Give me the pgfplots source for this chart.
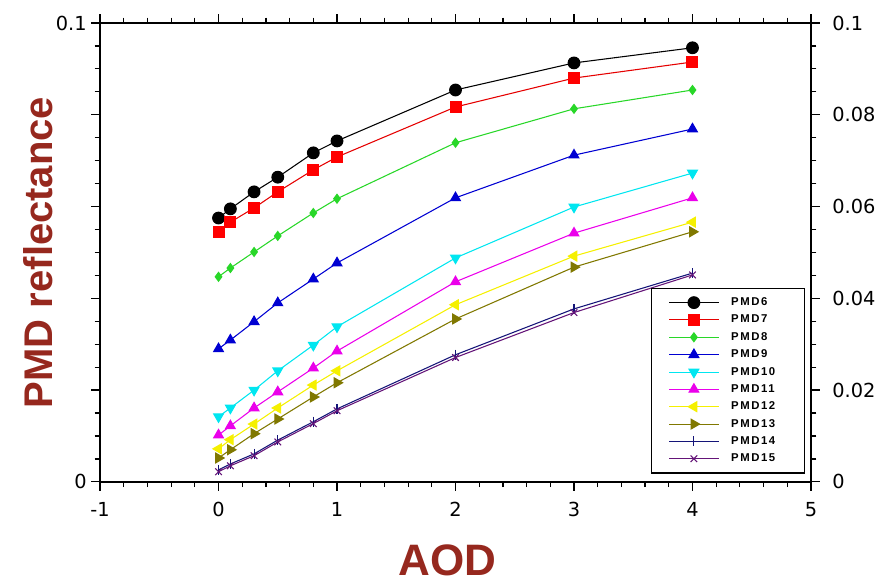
\documentclass[border=0pt]{standalone}
\usepackage{pgfplots}
\pgfplotsset{compat=1.18}
\usepackage{fontspec}
\setmainfont{DejaVu Sans}
\newfontfamily\labfont{Liberation Sans}
\newfontfamily\legfont{Liberation Sans}[LetterSpace=14]
\definecolor{labred}{RGB}{150,40,30}
\definecolor{cgreen}{RGB}{40,215,40}
\definecolor{cblue}{RGB}{0,0,210}
\definecolor{ccyan}{RGB}{0,230,240}
\definecolor{cmag}{RGB}{235,0,235}
\definecolor{cyel}{RGB}{245,240,0}
\definecolor{colive}{RGB}{128,120,0}
\definecolor{cnavy}{RGB}{20,20,120}
\definecolor{cpurp}{RGB}{100,20,120}

\pgfplotsset{
  common/.style={
    scale only axis, width=533pt, height=344pt,
    xmin=-1, xmax=5, ymin=0, ymax=0.1,
    tick align=outside,
    major tick length=6.5pt, minor tick length=4pt,
    axis line style={line width=1pt},
    every tick/.style={black, line width=0.9pt},
    ticklabel style={font=\fontsize{14.5}{16}\selectfont},
    /pgf/number format/assume math mode=true,
    minor y tick num=3,
    ytick={0,0.02,0.04,0.06,0.08,0.1},
  },
}

\begin{document}
\begin{tikzpicture}
\begin{axis}[
  common, name=main,
  xtick={-1,0,1,2,3,4,5}, minor x tick num=4,
  xtick pos=both, ytick pos=left,
  xticklabel style={yshift=-5pt},
  yticklabels={0,,,,,0.1},
  xlabel={AOD},
  ylabel={PMD reflectance},
  xlabel style={font=\labfont\bfseries\fontsize{33}{36}\selectfont, color=labred,
    inner sep=0pt, at={(axis description cs:0.489,-0.17)}, anchor=center},
  ylabel style={font=\labfont\bfseries\fontsize{30}{34}\selectfont, color=labred,
    at={(axis description cs:-0.087,0.5)}, anchor=center},
  every axis plot/.append style={line width=0.8pt},
  legend style={at={(0.992,0.018)}, anchor=south east, draw=black, line width=1pt,
    font=\legfont\bfseries\fontsize{8.5}{10}\selectfont, row sep=1.6pt,
    inner xsep=13pt, inner ysep=5pt,
    nodes={inner xsep=9pt}},
  legend cell align=left,
  legend image code/.code={\draw[mark repeat=2,mark phase=2,line width=0.8pt]
    plot coordinates {(0cm,0cm)(0.65cm,0cm)(1.3cm,0cm)};},
]
\addplot[black, mark=*, mark size=4.4pt, mark options={solid,fill=black}] coordinates {
 (0,0.0575)(0.1,0.0595)(0.3,0.0632)(0.5,0.0664)(0.8,0.0717)(1,0.0743)(2,0.0854)(3,0.0913)(4,0.0946)};
\addplot[red!90!black, mark=square*, mark size=4.1pt, mark options={fill=red,draw=red}] coordinates {
 (0,0.0545)(0.1,0.0566)(0.3,0.0597)(0.5,0.0632)(0.8,0.0680)(1,0.0708)(2,0.0817)(3,0.0880)(4,0.0915)};
\addplot[cgreen, mark=diamond*, mark size=3.3pt, mark options={fill=cgreen}] coordinates {
 (0,0.0447)(0.1,0.0466)(0.3,0.0501)(0.5,0.0536)(0.8,0.0586)(1,0.0617)(2,0.0739)(3,0.0813)(4,0.0854)};
\addplot[cblue, mark=triangle*, mark size=4.2pt, mark options={fill=cblue}] coordinates {
 (0,0.0290)(0.1,0.0309)(0.3,0.0349)(0.5,0.0390)(0.8,0.0442)(1,0.0477)(2,0.0619)(3,0.0712)(4,0.0769)};
\addplot[ccyan, mark=triangle*, mark size=4.2pt, mark options={fill=ccyan,rotate=180}] coordinates {
 (0,0.0142)(0.1,0.0161)(0.3,0.0200)(0.5,0.0242)(0.8,0.0298)(1,0.0338)(2,0.0488)(3,0.0599)(4,0.0673)};
\addplot[cmag, mark=triangle*, mark size=4.2pt, mark options={fill=cmag}] coordinates {
 (0,0.0102)(0.1,0.0122)(0.3,0.0161)(0.5,0.0196)(0.8,0.0248)(1,0.0285)(2,0.0436)(3,0.0542)(4,0.0619)};
\addplot[cyel, mark=triangle*, mark size=4.2pt, mark options={fill=cyel,rotate=90}] coordinates {
 (0,0.0072)(0.1,0.0092)(0.3,0.0126)(0.5,0.0161)(0.8,0.0211)(1,0.0242)(2,0.0386)(3,0.0492)(4,0.0566)};
\addplot[colive, mark=triangle*, mark size=4.2pt, mark options={fill=colive,rotate=-90}] coordinates {
 (0,0.0052)(0.1,0.0070)(0.3,0.0105)(0.5,0.0137)(0.8,0.0185)(1,0.0216)(2,0.0355)(3,0.0468)(4,0.0545)};
\addplot[cnavy, mark=|, mark size=3.8pt] coordinates {
 (0,0.0026)(0.1,0.0039)(0.3,0.0061)(0.5,0.0091)(0.8,0.0131)(1,0.0159)(2,0.0277)(3,0.0377)(4,0.0455)};
\addplot[cpurp, mark=x, mark size=3.5pt] coordinates {
 (0,0.0022)(0.1,0.0035)(0.3,0.0057)(0.5,0.0087)(0.8,0.0127)(1,0.0155)(2,0.0271)(3,0.0369)(4,0.0451)};
\legend{PMD6,PMD7,PMD8,PMD9,PMD10,PMD11,PMD12,PMD13,PMD14,PMD15}
\end{axis}
\begin{axis}[
  common,
  axis x line=none, axis y line*=right,
  yticklabel style={xshift=6pt},
  yticklabels={0,0.02,0.04,0.06,0.08,0.1},
]
\end{axis}
\pgfresetboundingbox
\path ([xshift=-75pt,yshift=-75.75pt]main.south west) rectangle ([xshift=52.5pt,yshift=17.25pt]main.north east);
\end{tikzpicture}
\end{document}
